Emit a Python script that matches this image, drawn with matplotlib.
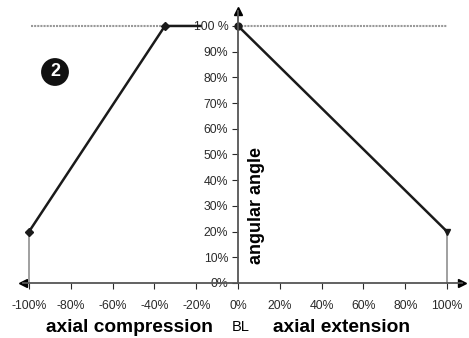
import matplotlib.pyplot as plt
import matplotlib.font_manager as fm

# data (percent)
comp_x = [-100, -35, -18]
comp_y = [20, 100, 100]
ext_x = [0, 100]
ext_y = [100, 20]
ref_level = 100
xticks = [-100, -80, -60, -40, -20, 0, 20, 40, 60, 80, 100]
xlabels = ["-100%", "-80%", "-60%", "-40%", "-20%", "0%", "20%", "40%", "60%", "80%", "100%"]
yticks = [0, 10, 20, 30, 40, 50, 60, 70, 80, 90, 100]
ylabels = ["0%", "10%", "20%", "30%", "40%", "50%", "60%", "70%", "80%", "90%", "100 %"]

names = {f.name for f in fm.fontManager.ttflist}
narrow = "Liberation Sans Narrow" if "Liberation Sans Narrow" in names else "Liberation Sans"
plt.rcParams['font.family'] = [narrow, 'DejaVu Sans']
bold_fam = ['Liberation Sans', 'DejaVu Sans']

fig = plt.figure(figsize=(4.69, 3.38), dpi=100)
ax = fig.add_axes([0, 0, 1, 1])
ax.set_xlim(-113.9, 110.5)
ax.set_ylim(-21.4, 110.1)

# spines through zero, like the original
for s in ['top', 'right']:
    ax.spines[s].set_visible(False)
ax.spines['left'].set_position(('data', 0))
ax.spines['bottom'].set_position(('data', 0))
ax.spines['left'].set_bounds(0, 106)
ax.spines['bottom'].set_bounds(-103, 107)
for s in ['left', 'bottom']:
    ax.spines[s].set_color('#555555')
    ax.spines[s].set_linewidth(1.3)
ax.patch.set_alpha(0)

ax.set_xticks(xticks)
ax.set_xticklabels(xlabels)
ax.set_yticks(yticks)
ax.set_yticklabels(ylabels)
ax.tick_params(axis='x', direction='out', length=4, pad=8, labelsize=8.8, colors='#2a2a2a')
ax.tick_params(axis='y', direction='out', length=4, pad=3, labelsize=8.8, colors='#2a2a2a')

# arrow heads on the axes
ax.plot([0], [106], marker='^', color='black', markersize=6, clip_on=False)
ax.plot([-103], [0], marker='<', color='black', markersize=6, clip_on=False)
ax.plot([107], [0], marker='>', color='black', markersize=6, clip_on=False)

# 100 % reference line
ax.plot([comp_x[0] + 1, comp_x[1]], [ref_level, ref_level], color='#999999', lw=1.5, ls=(0, (1, 0.5)))
ax.plot([ext_x[0], ext_x[1]], [ref_level, ref_level], color='#999999', lw=1.5, ls=(0, (1, 0.5)))

# drop lines
ax.plot([comp_x[0], comp_x[0]], [0, comp_y[0]], color='#999999', lw=1.3)
ax.plot([ext_x[1], ext_x[1]], [0, ext_y[1]], color='#999999', lw=1.3)

# curves
ax.plot(comp_x, comp_y, color='#1a1a1a', lw=1.8)
ax.plot(comp_x[:2], comp_y[:2], ls='none', marker='D', color='#1a1a1a', markersize=4)
ax.plot(ext_x, ext_y, color='#1a1a1a', lw=1.8)
ax.plot([ext_x[0]], [ext_y[0]], marker='o', color='#1a1a1a', markersize=5, clip_on=False)
ax.plot([ext_x[1]], [ext_y[1]], marker='v', color='#1a1a1a', markersize=5)

# labels
ax.text(9, 30, "angular angle", rotation=90, ha='center', va='center',
        fontsize=13, fontweight='bold', family=bold_fam)
fig.text(129 / 469, 1 - 327 / 338, "axial compression", ha='center', va='center',
         fontsize=13.8, fontweight='bold', family=bold_fam)
fig.text(241 / 469, 1 - 327 / 338, "BL", ha='center', va='center',
         fontsize=10.5, family=bold_fam)
fig.text(341 / 469, 1 - 327 / 338, "axial extension", ha='center', va='center',
         fontsize=13.8, fontweight='bold', family=bold_fam)

# circled number
fig.text(55 / 469, 1 - 72 / 338, "2", ha='center', va='center', color='white',
         fontsize=13, fontweight='bold', family=bold_fam,
         bbox=dict(boxstyle='circle,pad=0.3', fc='#111111', ec='none'))

fig.savefig("out.png", dpi=100)
